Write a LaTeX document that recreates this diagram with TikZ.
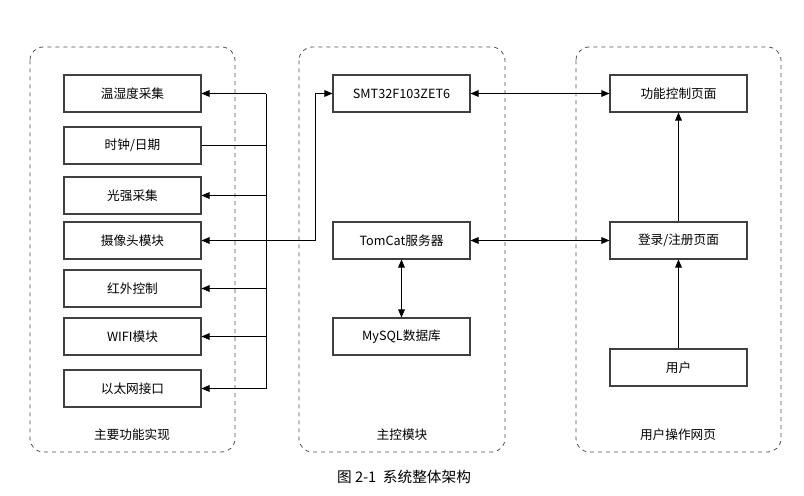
\documentclass[tikz,border=0pt]{standalone}
\usepackage{fontspec}
\setmainfont{Noto Sans CJK SC}
\usetikzlibrary{arrows.meta}
\begin{document}
\begin{tikzpicture}[x=0.75pt,y=-0.75pt,
  box/.style={draw=black!75,line width=0.8pt,minimum width=102.75pt,minimum height=27.75pt,inner sep=0pt,font=\fontsize{9.5}{11}\selectfont},
  grp/.style={draw=black!70,dashed,rounded corners=10pt,line width=0.6pt},
  lbl/.style={font=\fontsize{9.5}{11}\selectfont},
  ar/.style={-{Triangle[length=6pt,width=5pt]},line width=0.6pt},
  dar/.style={{Triangle[length=6pt,width=5pt]}-{Triangle[length=6pt,width=5pt]},line width=0.6pt}]
\useasboundingbox (0,0) rectangle (804,496);
\draw[grp] (30,47) rectangle (235,452);
\draw[grp] (299,47) rectangle (505,452);
\draw[grp] (576,47) rectangle (781,452);
\node[lbl] (g1) at (132,435) {主要功能实现};
\node[lbl] (g2) at (402,435) {主控模块};
\node[lbl] (g3) at (678,435) {用户操作网页};
\node[box] (a1) at (132.5,93.5) {温湿度采集};
\node[box] (a2) at (132.5,145.5) {时钟/日期};
\node[box] (a3) at (132.5,195.5) {光强采集};
\node[box] (a4) at (132.5,240.5) {摄像头模块};
\node[box] (a5) at (132.5,288.5) {红外控制};
\node[box] (a6) at (132.5,336.5) {WIFI模块};
\node[box] (a7) at (132.5,388.5) {以太网接口};
\node[box] (m1) at (401.5,93.5) {SMT32F103ZET6};
\node[box] (m2) at (401.5,240.5) {TomCat服务器};
\node[box] (m3) at (401.5,336.5) {MySQL数据库};
\node[box] (r1) at (678.5,93.5) {功能控制页面};
\node[box] (r2) at (678.5,240.5) {登录/注册页面};
\node[box] (r3) at (678.5,367.5) {用户};
\coordinate (bt) at (266,93.5);
\coordinate (bb) at (266,388.5);
\coordinate (k1) at (315,240.5);
\coordinate (k2) at (315,93.5);
\draw[line width=0.6pt] (bt) -- (bb);
\draw[ar] (bt) -- (a1.east);
\draw[line width=0.6pt] (a2.east) -- (266,145.5);
\draw[ar] (266,195.5) -- (a3.east);
\draw[ar] (k1) -- (a4.east);
\draw[ar] (k1) -- (k2) -- (m1.west);
\draw[ar] (266,288.5) -- (a5.east);
\draw[ar] (266,336.5) -- (a6.east);
\draw[ar] (bb) -- (a7.east);
\draw[dar] (m1.east) -- (r1.west);
\draw[dar] (m2.east) -- (r2.west);
\draw[dar] (m2.south) -- (m3.north);
\draw[ar] (r2.north) -- (r1.south);
\draw[ar] (r3.north) -- (r2.south);
\node[font=\fontsize{11}{13}\selectfont] (cap) at (404,477) {图 2-1\ \ 系统整体架构};
\end{tikzpicture}
\end{document}
